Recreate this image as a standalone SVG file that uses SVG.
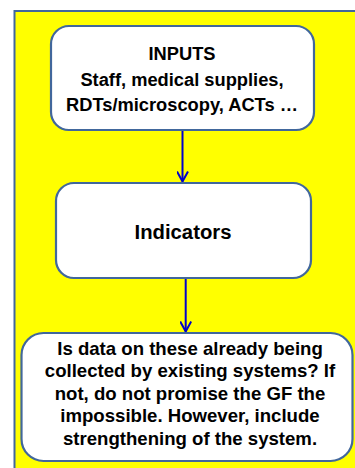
<svg xmlns="http://www.w3.org/2000/svg" width="355" height="468" viewBox="0 0 355 468">
  <style>
    .node { fill: #FFFFFF; stroke: #41679C; stroke-width: 2.2; }
    .lbl { font-family: "Liberation Sans", Arial, sans-serif; font-weight: bold; fill: #000000; text-anchor: middle; }
    .conn { stroke: #0000CC; stroke-width: 2; fill: none; }
  </style>
  <defs>
    <marker id="arrow" viewBox="0 0 12 12" refX="11" refY="6" markerWidth="12" markerHeight="12" markerUnits="userSpaceOnUse" orient="auto">
      <path d="M1,0.5 L11,6 L1,11.5" fill="none" stroke="#0000CC" stroke-width="2"/>
    </marker>
  </defs>
  <rect id="background" x="14.5" y="11" width="345" height="465" fill="#FFFF00" stroke="#41679C" stroke-width="2"/>
  <g id="connectors">
    <line class="conn" x1="182.5" y1="130" x2="182.5" y2="181.5" marker-end="url(#arrow)"/>
    <line class="conn" x1="185.7" y1="278" x2="185.7" y2="331.5" marker-end="url(#arrow)"/>
  </g>
  <g id="inputs">
    <rect class="node" x="51" y="26" width="263" height="104" rx="18"/>
    <text class="lbl" font-size="18.3" x="182" y="60">INPUTS</text>
    <text class="lbl" font-size="18.3" x="182" y="86">Staff, medical supplies,</text>
    <text class="lbl" font-size="18.3" x="182" y="111">RDTs/microscopy, ACTs …</text>
  </g>
  <g id="indicators">
    <rect class="node" x="56" y="183" width="255" height="95" rx="18"/>
    <text class="lbl" font-size="20.3" x="183" y="238.5">Indicators</text>
  </g>
  <g id="question">
    <rect class="node" x="21.5" y="333" width="331" height="128" rx="22"/>
    <text class="lbl" font-size="18.6" x="190" y="354.5">Is data on these already being</text>
    <text class="lbl" font-size="18.6" x="190" y="377">collected by existing systems? If</text>
    <text class="lbl" font-size="18.6" x="190" y="399.5">not, do not promise the GF the</text>
    <text class="lbl" font-size="18.6" x="190" y="422">impossible. However, include</text>
    <text class="lbl" font-size="18.6" x="190" y="444.5">strengthening of the system.</text>
  </g>
</svg>
